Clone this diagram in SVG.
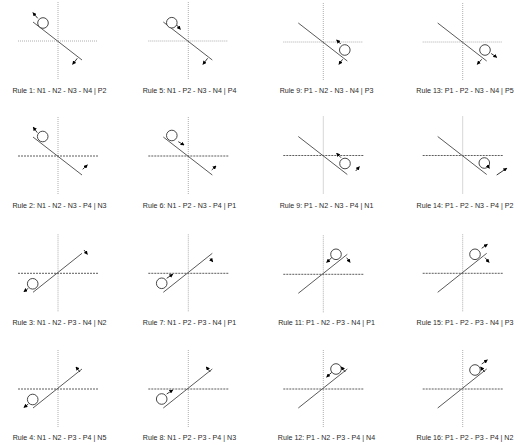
<svg xmlns="http://www.w3.org/2000/svg" width="518" height="445" viewBox="0 0 518 445">
<style>
.bg{fill:#fff}
.ax{stroke:#9a9a9a;stroke-width:0.8;stroke-dasharray:1 1;fill:none}
.hx{stroke:#333;stroke-width:0.8;stroke-dasharray:2 1;fill:none}
.sl{stroke:#5a5a5a;stroke-width:1;fill:none}
.ball{stroke:#333;stroke-width:0.9;fill:#fff}
.ar{stroke:#000;stroke-width:0.8;fill:none;marker-end:url(#ah)}
.lb{font-family:"Liberation Sans",Arial,sans-serif;font-size:7.1px;fill:#2a2a2a;text-anchor:middle}
</style>
<defs>
<marker id="ah" viewBox="0 0 6 6" refX="5" refY="3" markerWidth="4" markerHeight="4" markerUnits="userSpaceOnUse" orient="auto">
<path d="M0,0 L6,3 L0,6 z" fill="#000"/>
</marker>
</defs>
<rect class="bg" width="518" height="445"/>

<!-- Row 1 -->
<g id="rule1" transform="translate(58,41)">
<line class="ax" x1="0" y1="-39" x2="0" y2="39"/><line class="ax" x1="-40" y1="0" x2="40" y2="0"/>
<line class="sl" x1="-25" y1="-19" x2="24" y2="19"/>
<circle class="ball" cx="-15" cy="-18" r="5.3"/>
<line class="ar" x1="-20.3" y1="-22.7" x2="-25" y2="-28.3"/>
<line class="ar" x1="19.3" y1="17.3" x2="14.7" y2="23.3"/>
</g>
<g id="rule5" transform="translate(188.3,41)">
<line class="ax" x1="0" y1="-39" x2="0" y2="39"/><line class="ax" x1="-40" y1="0" x2="40" y2="0"/>
<line class="sl" x1="-25" y1="-19" x2="24" y2="19"/>
<circle class="ball" cx="-16.5" cy="-18.3" r="5.3"/>
<line class="ar" x1="-11.6" y1="-16" x2="-8" y2="-11.7"/>
<line class="ar" x1="19.3" y1="17.3" x2="14.7" y2="23.3"/>
</g>
<g id="rule9a" transform="translate(323.3,42)">
<line class="ax" x1="0" y1="-39" x2="0" y2="39"/><line class="ax" x1="-40" y1="0" x2="40" y2="0"/>
<line class="sl" x1="-25" y1="-19" x2="24" y2="19"/>
<circle class="ball" cx="21.5" cy="8" r="5.3"/>
<line class="ar" x1="17.4" y1="2" x2="13.4" y2="-2"/>
<line class="ar" x1="19.3" y1="17.3" x2="15.7" y2="22.3"/>
</g>
<g id="rule13" transform="translate(462.7,42)">
<line class="ax" x1="0" y1="-39" x2="0" y2="39"/><line class="ax" x1="-40" y1="0" x2="40" y2="0"/>
<line class="sl" x1="-25" y1="-19" x2="24" y2="19"/>
<circle class="ball" cx="22.3" cy="8" r="5.3"/>
<line class="ar" x1="28.5" y1="11.5" x2="34" y2="15.3"/>
<line class="ar" x1="19" y1="17.3" x2="14.6" y2="22.3"/>
</g>

<!-- Row 2 -->
<g id="rule2" transform="translate(58,156)">
<line class="ax" x1="0" y1="-39" x2="0" y2="39"/><line class="hx" x1="-40" y1="0" x2="40" y2="0"/>
<line class="sl" x1="-25" y1="-19" x2="24" y2="19"/>
<circle class="ball" cx="-15.3" cy="-19.5" r="5.3"/>
<line class="ar" x1="-20.7" y1="-23.3" x2="-24.7" y2="-28.7"/>
<line class="ar" x1="24.7" y1="13.3" x2="29.3" y2="9"/>
</g>
<g id="rule6" transform="translate(188.3,156)">
<line class="ax" x1="0" y1="-39" x2="0" y2="39"/><line class="hx" x1="-40" y1="0" x2="40" y2="0"/>
<line class="sl" x1="-25" y1="-19" x2="24" y2="19"/>
<circle class="ball" cx="-16.5" cy="-20.5" r="5.3"/>
<line class="ar" x1="-10" y1="-14.3" x2="-4.3" y2="-11"/>
<line class="ar" x1="23.4" y1="14" x2="27.7" y2="10"/>
</g>
<g id="rule9b" transform="translate(323.3,155.5)">
<line class="ax" x1="0" y1="-39" x2="0" y2="39"/><line class="hx" x1="-40" y1="0" x2="40" y2="0"/>
<line class="sl" x1="-25" y1="-19" x2="24" y2="19"/>
<circle class="ball" cx="21.7" cy="8" r="5.3"/>
<line class="ar" x1="17.7" y1="2.2" x2="13.4" y2="-2.2"/>
<line class="ar" x1="32.4" y1="15.5" x2="36" y2="11.2"/>
</g>
<g id="rule14" transform="translate(462.7,155.5)">
<line class="ax" x1="0" y1="-39" x2="0" y2="39"/><line class="hx" x1="-40" y1="0" x2="40" y2="0"/>
<line class="sl" x1="-25" y1="-19" x2="24" y2="19"/>
<circle class="ball" cx="21.6" cy="7.5" r="5.3"/>
<line class="ar" x1="24.5" y1="9.5" x2="26.6" y2="12.8"/>
<line class="ar" x1="34" y1="19.5" x2="44" y2="12.8"/>
</g>

<!-- Row 3 -->
<g id="rule3" transform="translate(58,273.3)">
<line class="ax" x1="0" y1="-39" x2="0" y2="39"/><line class="hx" x1="-40" y1="0" x2="40" y2="0"/>
<line class="sl" x1="-25" y1="19" x2="24" y2="-20"/>
<circle class="ball" cx="-25.3" cy="10.5" r="5.3"/>
<line class="ar" x1="-29.7" y1="15" x2="-34" y2="18.4"/>
<line class="ar" x1="26" y1="-23.3" x2="29.3" y2="-19"/>
</g>
<g id="rule7" transform="translate(188.3,273.3)">
<line class="ax" x1="0" y1="-39" x2="0" y2="39"/><line class="hx" x1="-40" y1="0" x2="40" y2="0"/>
<line class="sl" x1="-25" y1="19" x2="24" y2="-20"/>
<circle class="ball" cx="-26.6" cy="10" r="5.3"/>
<line class="ar" x1="-21.6" y1="5" x2="-15.6" y2="1"/>
<line class="ar" x1="21.7" y1="-15" x2="24.4" y2="-11.6"/>
</g>
<g id="rule11" transform="translate(323.3,274.3)">
<line class="ax" x1="0" y1="-39" x2="0" y2="39"/><line class="hx" x1="-40" y1="0" x2="40" y2="0"/>
<line class="sl" x1="-25" y1="19" x2="24" y2="-20"/>
<circle class="ball" cx="12.7" cy="-20" r="5.3"/>
<line class="ar" x1="8.4" y1="-16.6" x2="3.4" y2="-12"/>
<line class="ar" x1="23.4" y1="-16.6" x2="26.7" y2="-12"/>
</g>
<g id="rule15" transform="translate(462.7,273.3)">
<line class="ax" x1="0" y1="-39" x2="0" y2="39"/><line class="hx" x1="-40" y1="0" x2="40" y2="0"/>
<line class="sl" x1="-25" y1="19" x2="24" y2="-20"/>
<circle class="ball" cx="12.3" cy="-19" r="5.3"/>
<line class="ar" x1="19" y1="-25" x2="24.6" y2="-29"/>
<line class="ar" x1="22.3" y1="-15.6" x2="26.3" y2="-11"/>
</g>

<!-- Row 4 -->
<g id="rule4" transform="translate(58,389)">
<line class="ax" x1="0" y1="-39" x2="0" y2="39"/><line class="hx" x1="-40" y1="0" x2="40" y2="0"/>
<line class="sl" x1="-25" y1="19" x2="24" y2="-20"/>
<circle class="ball" cx="-25.3" cy="10.5" r="5.3"/>
<line class="ar" x1="-29.7" y1="15" x2="-34" y2="18.4"/>
<line class="ar" x1="22" y1="-17" x2="18" y2="-22"/>
</g>
<g id="rule8" transform="translate(188.3,389)">
<line class="ax" x1="0" y1="-39" x2="0" y2="39"/><line class="hx" x1="-40" y1="0" x2="40" y2="0"/>
<line class="sl" x1="-25" y1="19" x2="24" y2="-20"/>
<circle class="ball" cx="-26.6" cy="10" r="5.3"/>
<line class="ar" x1="-21.6" y1="5" x2="-15.6" y2="1"/>
<line class="ar" x1="22" y1="-17" x2="18" y2="-22"/>
</g>
<g id="rule12" transform="translate(323.3,389)">
<line class="ax" x1="0" y1="-39" x2="0" y2="39"/><line class="hx" x1="-40" y1="0" x2="40" y2="0"/>
<line class="sl" x1="-25" y1="19" x2="24" y2="-20"/>
<circle class="ball" cx="12.7" cy="-20" r="5.3"/>
<line class="ar" x1="8.4" y1="-16.6" x2="3.4" y2="-12"/>
<line class="ar" x1="22" y1="-17" x2="18" y2="-22"/>
</g>
<g id="rule16" transform="translate(462.7,389)">
<line class="ax" x1="0" y1="-39" x2="0" y2="39"/><line class="hx" x1="-40" y1="0" x2="40" y2="0"/>
<line class="sl" x1="-25" y1="19" x2="24" y2="-20"/>
<circle class="ball" cx="12.3" cy="-19" r="5.3"/>
<line class="ar" x1="19" y1="-25" x2="24.6" y2="-29"/>
<line class="ar" x1="22" y1="-17" x2="18" y2="-22"/>
</g>

<g id="labels">
<text class="lb" x="59.5" y="92.5">Rule 1: N1 - N2 - N3 - N4 | P2</text>
<text class="lb" x="189.5" y="92.5">Rule 5: N1 - P2 - N3 - N4 | P4</text>
<text class="lb" x="326.5" y="92.5">Rule 9: P1 - N2 - N3 - N4 | P3</text>
<text class="lb" x="465" y="92.5">Rule 13: P1 - P2 - N3 - N4 | P5</text>
<text class="lb" x="59.5" y="207.5">Rule 2: N1 - N2 - N3 - P4 | N3</text>
<text class="lb" x="189.5" y="207.5">Rule 6: N1 - P2 - N3 - P4 | P1</text>
<text class="lb" x="326.5" y="207.5">Rule 9: P1 - N2 - N3 - P4 | N1</text>
<text class="lb" x="465" y="207.5">Rule 14: P1 - P2 - N3 - P4 | P2</text>
<text class="lb" x="59.5" y="324.5">Rule 3: N1 - N2 - P3 - N4 | N2</text>
<text class="lb" x="189.5" y="324.5">Rule 7: N1 - P2 - P3 - N4 | P1</text>
<text class="lb" x="326.5" y="324.5">Rule 11: P1 - N2 - P3 - N4 | P1</text>
<text class="lb" x="465" y="324.5">Rule 15: P1 - P2 - P3 - N4 | P3</text>
<text class="lb" x="59.5" y="440">Rule 4: N1 - N2 - P3 - P4 | N5</text>
<text class="lb" x="189.5" y="440">Rule 8: N1 - P2 - P3 - P4 | N3</text>
<text class="lb" x="326.5" y="440">Rule 12: P1 - N2 - P3 - P4 | N4</text>
<text class="lb" x="465" y="440">Rule 16: P1 - P2 - P3 - P4 | N2</text>
</g>
</svg>
